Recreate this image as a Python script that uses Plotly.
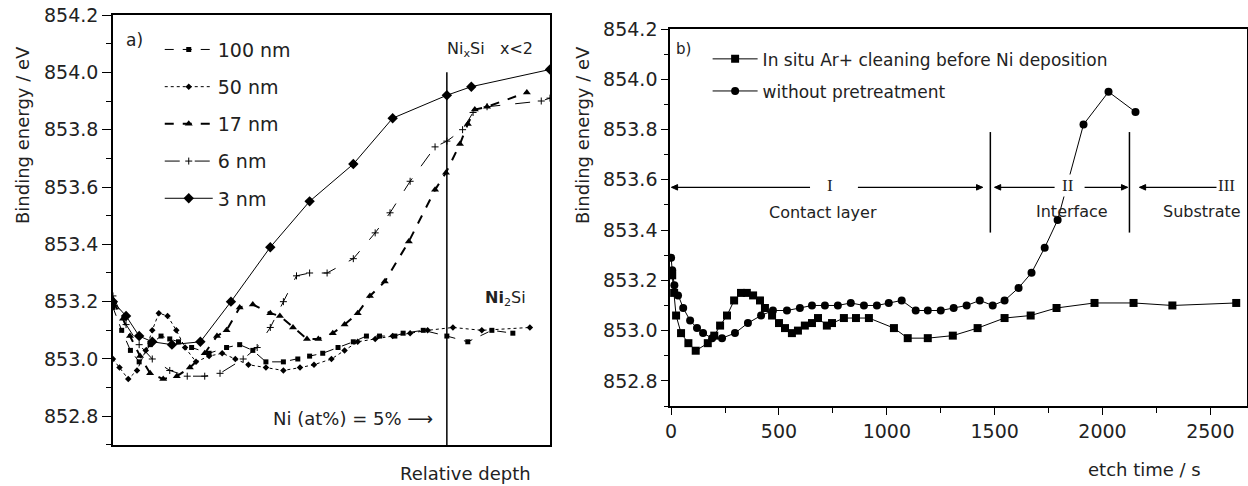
import plotly.graph_objects as go

# ---------------- data: panel a) (relative depth, arbitrary 0-100 scale) ----------------
x_100 = [0, 2, 4, 6, 8.5, 11, 13, 15, 18, 22, 26, 29, 32, 35, 39, 42.3, 45, 48, 51.5, 55, 58, 61,
         64.5, 66.4, 71, 76.4, 81.2, 86.7, 91.5]
y_100 = [853.18, 853.10, 853.03, 852.99, 853.05, 853.08, 853.07, 853.06, 853.04, 853.02, 853.04,
         853.05, 853.03, 852.99, 852.99, 853.00, 853.01, 853.02, 853.04, 853.06, 853.08, 853.08,
         853.08, 853.09, 853.10, 853.08, 853.06, 853.10, 853.09]

x_50 = [0, 1.5, 3.5, 5.5, 7.5, 9, 10.5, 12.5, 14.5, 16.5, 19, 22, 25, 28, 31, 35, 39, 42.8, 46, 50,
        53, 56, 60, 64, 68, 72, 77.8, 84.4, 95.4]
y_50 = [853.00, 852.97, 852.93, 852.96, 853.03, 853.10, 853.16, 853.15, 853.10, 853.04, 852.99,
        853.01, 853.02, 853.00, 852.98, 852.97, 852.96, 852.97, 852.98, 853.00, 853.03, 853.06,
        853.07, 853.08, 853.09, 853.10, 853.11, 853.10, 853.11]

x_17 = [0, 2.3, 3.9, 6.2, 8.5, 11.5, 14.6, 17.6, 21, 23.8, 26, 29, 32, 36, 38.2, 41.2, 44.4, 47,
        50.3, 53, 56, 58.8, 62.2, 67.7, 73.7, 76.2, 79.4, 81.2, 82.8, 85.6, 94.7]
y_17 = [853.20, 853.14, 853.08, 853.01, 852.95, 852.93, 852.94, 852.97, 853.02, 853.08, 853.10,
        853.18, 853.19, 853.16, 853.15, 853.11, 853.07, 853.07, 853.09, 853.12, 853.16, 853.22,
        853.27, 853.41, 853.59, 853.65, 853.75, 853.82, 853.87, 853.88, 853.93]

x_6 = [0, 3, 6, 9, 13, 17, 21, 24.5, 29.8, 33, 36, 39, 42, 45, 49, 55, 60, 63.4, 68, 73.7, 76.4,
       80, 82.4, 85.6, 98, 100]
y_6 = [853.22, 853.12, 853.05, 853.00, 852.96, 852.94, 852.94, 852.95, 853.00, 853.04, 853.11,
       853.20, 853.29, 853.30, 853.30, 853.35, 853.44, 853.51, 853.62, 853.74, 853.76, 853.80,
       853.86, 853.88, 853.90, 853.91]

x_3 = [0, 3, 6, 9, 13.5, 20, 27, 36, 45, 55, 64, 76.4, 82, 100]
y_3 = [853.20, 853.15, 853.08, 853.06, 853.05, 853.06, 853.20, 853.39, 853.55, 853.68, 853.84,
       853.92, 853.95, 854.01]

# ---------------- data: panel b) (etch time / s) ----------------
t_ar = [5, 14, 23, 46, 80, 114, 170, 200, 227, 259, 292, 324, 351, 380, 412, 435, 468, 500, 528,
        560, 588, 620, 653, 681, 722, 746, 801, 857, 917, 1033, 1097, 1190, 1306, 1421, 1546,
        1667, 1787, 1963, 2144, 2324, 2620]
e_ar = [853.22, 853.15, 853.06, 852.99, 852.95, 852.92, 852.95, 852.98, 853.02, 853.06, 853.12,
        853.15, 853.15, 853.14, 853.12, 853.09, 853.06, 853.03, 853.01, 852.99, 853.00, 853.02,
        853.03, 853.05, 853.02, 853.03, 853.05, 853.05, 853.05, 853.01, 852.97, 852.97, 852.98,
        853.01, 853.05, 853.06, 853.09, 853.11, 853.11, 853.10, 853.11]

t_np = [0, 5, 15, 32, 56, 88, 120, 148, 190, 236, 296, 356, 417, 472, 537, 597, 653, 713, 773,
        833, 894, 954, 1009, 1069, 1134, 1190, 1250, 1310, 1370, 1431, 1491, 1546, 1611, 1671,
        1732, 1792, 1912, 2028, 2153]
e_np = [853.29, 853.24, 853.18, 853.14, 853.09, 853.04, 853.01, 852.99, 852.97, 852.97, 852.99,
        853.03, 853.06, 853.08, 853.08, 853.09, 853.10, 853.10, 853.10, 853.11, 853.10, 853.10,
        853.11, 853.12, 853.08, 853.08, 853.08, 853.09, 853.10, 853.12, 853.10, 853.12, 853.17,
        853.23, 853.33, 853.44, 853.82, 853.95, 853.87]

# region boundaries and arrow level in panel b)
t_bounds = [1480, 2125]
arrow_level = 853.57

FONT = "DejaVu Sans"
BLACK = "black"
TXT = "#222"

fig = go.Figure()

# panel a) traces
fig.add_trace(go.Scatter(x=x_100, y=y_100, name="100 nm", mode="lines+markers",
                         line=dict(color=BLACK, width=1, dash="dash"),
                         marker=dict(symbol="square", size=5, color=BLACK),
                         legendgroup="a1", legend="legend"))
fig.add_trace(go.Scatter(x=x_50, y=y_50, name="50 nm", mode="lines+markers",
                         line=dict(color=BLACK, width=1, dash="dot"),
                         marker=dict(symbol="diamond", size=5, color=BLACK),
                         legendgroup="a2", legend="legend"))
fig.add_trace(go.Scatter(x=x_17, y=y_17, name="17 nm", mode="lines+markers",
                         line=dict(color=BLACK, width=2, dash="dash"),
                         marker=dict(symbol="triangle-up", size=7, color=BLACK),
                         legendgroup="a3", legend="legend"))
fig.add_trace(go.Scatter(x=x_6, y=y_6, name="6 nm", mode="lines+markers",
                         line=dict(color=BLACK, width=1, dash="longdash"),
                         marker=dict(symbol="cross-thin", size=5, color=BLACK,
                                     line=dict(color=BLACK, width=1)),
                         legendgroup="a4", legend="legend"))
fig.add_trace(go.Scatter(x=x_3, y=y_3, name="3 nm", mode="lines+markers",
                         line=dict(color=BLACK, width=1),
                         marker=dict(symbol="diamond", size=8, color=BLACK),
                         legendgroup="a5", legend="legend"))

# panel b) traces
fig.add_trace(go.Scatter(x=t_ar, y=e_ar, name="In situ Ar+ cleaning before Ni deposition",
                         mode="lines+markers", xaxis="x2", yaxis="y2",
                         line=dict(color=BLACK, width=1),
                         marker=dict(symbol="square", size=8, color=BLACK),
                         legendgroup="b1", legend="legend2"))
fig.add_trace(go.Scatter(x=t_np, y=e_np, name="without pretreatment",
                         mode="lines+markers", xaxis="x2", yaxis="y2",
                         line=dict(color=BLACK, width=1),
                         marker=dict(symbol="circle", size=8, color=BLACK),
                         legendgroup="b2", legend="legend2"))

ax_common = dict(showline=True, linecolor=BLACK, linewidth=1.5, mirror=True, automargin=False,
                 showgrid=False, zeroline=False, ticks="outside", tickcolor=BLACK,
                 tickfont=dict(family=FONT, size=19, color=TXT))
y_ticks = [852.8, 853.0, 853.2, 853.4, 853.6, 853.8, 854.0, 854.2]
y_text = ["%.1f" % v for v in y_ticks]

fig.update_layout(
    width=1248, height=486,
    margin=dict(l=0, r=0, t=0, b=0),
    paper_bgcolor="white", plot_bgcolor="white",
    font=dict(family=FONT, size=18, color=TXT),
    showlegend=True,
    xaxis=dict(ax_common, domain=[0.0905, 0.4407], range=[0, 100],
               showticklabels=False, ticks=""),
    yaxis=dict(ax_common, domain=[0.0844, 0.9691], range=[852.7, 854.2],
               tickvals=y_ticks, ticktext=y_text,
               ticklen=9, minor=dict(dtick=0.1, ticks="outside", ticklen=5, tickcolor=BLACK)),
    xaxis2=dict(ax_common, domain=[0.5369, 0.9992], range=[-5, 2670], anchor="y2",
                tickvals=[0, 500, 1000, 1500, 2000, 2500], ticklen=7,
                minor=dict(dtick=250, ticks="outside", ticklen=5, tickcolor=BLACK)),
    yaxis2=dict(ax_common, domain=[0.1646, 0.9403], range=[852.7, 854.2], anchor="x2",
                tickvals=y_ticks, ticktext=y_text,
                ticklen=7, minor=dict(dtick=0.1, ticks="outside", ticklen=4, tickcolor=BLACK)),
    legend=dict(x=0.128, y=0.937, xanchor="left", yanchor="top", bgcolor="rgba(0,0,0,0)",
                font=dict(family=FONT, size=19, color=TXT), tracegroupgap=9.5,
                itemwidth=48),
    legend2=dict(x=0.567, y=0.915, xanchor="left", yanchor="top", bgcolor="rgba(0,0,0,0)",
                 font=dict(family=FONT, size=17, color=TXT), tracegroupgap=7,
                 itemwidth=45),
)

# vertical boundary in panel a)
fig.add_shape(type="line", xref="x", yref="y", x0=76.4, x1=76.4, y0=854.0, y1=852.7,
              line=dict(color=BLACK, width=1.5))

# vertical boundaries in panel b)
for tb in t_bounds:
    fig.add_shape(type="line", xref="x2", yref="y2", x0=tb, x1=tb, y0=853.39, y1=853.79,
                  line=dict(color=BLACK, width=1.5))

# region arrows in panel b): (head, tail); arrowheads drawn as small triangles
arrows = [(2, 644), (1444, 866), (1500, 1778), (2116, 1917), (2172, 2540)]
head_len, head_half = 28, 0.011
for head, tail in arrows:
    fig.add_shape(type="line", xref="x2", yref="y2", x0=tail, x1=head,
                  y0=arrow_level, y1=arrow_level, line=dict(color=BLACK, width=1.2))
    d = head_len if tail > head else -head_len
    fig.add_shape(type="path", xref="x2", yref="y2",
                  path="M %g,%g L %g,%g L %g,%g Z" % (head, arrow_level, head + d,
                                                      arrow_level + head_half, head + d,
                                                      arrow_level - head_half),
                  fillcolor=BLACK, line=dict(color=BLACK, width=1))

ann = []
# axis titles
ann.append(dict(text="Binding energy / eV", x=22, y=135, textangle=-90))
ann.append(dict(text="Binding energy / eV", x=582, y=135, textangle=-90))
ann.append(dict(text="Relative depth", x=465, y=473))
ann.append(dict(text="etch time / s", x=1144, y=469))
# panel labels
ann.append(dict(text="a)", x=134, y=40, size=17))
ann.append(dict(text="b)", x=683, y=49, size=15))
# panel a) labels
ann.append(dict(text="Ni<sub>x</sub>Si   x<2", x=490, y=50, size=16))
ann.append(dict(text="<b>Ni</b><sub>2</sub>Si", x=505, y=298, size=16))
ann.append(dict(text="Ni (at%) = 5% \u27f6", x=353, y=418, size=18))
# panel b) region labels
ann.append(dict(text="Contact layer", x=823, y=213, size=16))
ann.append(dict(text="Interface", x=1072, y=211, size=16))
ann.append(dict(text="Substrate", x=1202, y=211, size=16))
ann.append(dict(text="I", x=830, y=186, size=17, family="Liberation Serif", bg="white"))
ann.append(dict(text="II", x=1068, y=186, size=17, family="Liberation Serif", bg="white"))
ann.append(dict(text="III", x=1226, y=186, size=17, family="Liberation Serif", bg="white"))

for a in ann:
    fig.add_annotation(text=a["text"], xref="paper", yref="paper",
                       x=a["x"] / 1248, y=1 - a["y"] / 486, xanchor="center", yanchor="middle",
                       showarrow=False, textangle=a.get("textangle", 0),
                       bgcolor=a.get("bg", "rgba(0,0,0,0)"),
                       font=dict(family=a.get("family", FONT), size=a.get("size", 18), color=TXT))

fig.write_html("out.html", config={"displayModeBar": False},
               post_script="document.body.style.margin='0px';")
